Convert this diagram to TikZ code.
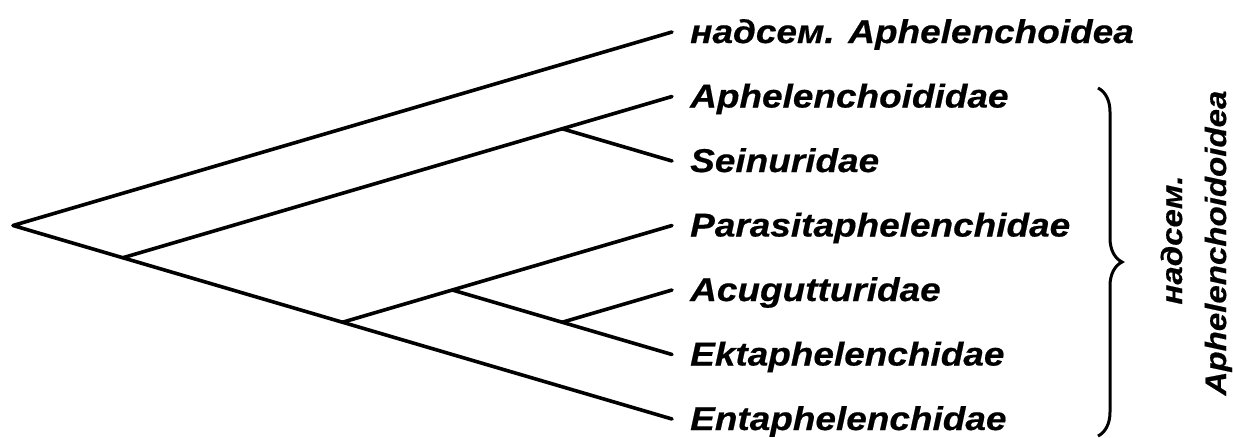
\documentclass[tikz,border=0pt]{standalone}
\usepackage{fontspec}
\newfontfamily\taxfont{Liberation Sans}[FakeStretch=1.12, BoldItalicFeatures={FakeBold=0.5}]
\usetikzlibrary{decorations.pathreplacing}
\tikzset{
  branch/.style={line width=3.6pt, line cap=round, line join=round},
  taxon/.style={anchor=base west, inner sep=0pt,
    font=\taxfont\bfseries\itshape\fontsize{33}{38}\selectfont},
  grouplabel/.style={rotate=90, anchor=base, inner sep=0pt,
    font=\taxfont\bfseries\itshape\fontsize{29.5}{44}\selectfont},
}
\begin{document}
\begin{tikzpicture}[x=1pt, y=-1pt]
  \useasboundingbox (0,0) rectangle (1233,437);

  % tips of the tree
  \coordinate (t1) at (672,32);
  \coordinate (t2) at (672,96.5);
  \coordinate (t3) at (672,161);
  \coordinate (t4) at (672,225.5);
  \coordinate (t5) at (672,290);
  \coordinate (t6) at (672,354.5);
  \coordinate (t7) at (672,419);

  % internal nodes
  \coordinate (root) at (13,225.5);
  \coordinate (nA) at (122.8,257.75);
  \coordinate (nB) at (562.2,128.75);
  \coordinate (nC) at (342.5,322.25);
  \coordinate (nD) at (452.3,290);
  \coordinate (nE) at (562.2,322.25);

  % branches
  \draw[branch] (t1) -- (root) -- (nA) -- (nC) -- (t7);
  \draw[branch] (nA) -- (nB) -- (t2);
  \draw[branch] (nB) -- (t3);
  \draw[branch] (nC) -- (nD) -- (t4);
  \draw[branch] (nD) -- (nE) -- (t6);
  \draw[branch] (nE) -- (t5);

  % taxon names
  \node[taxon] (l1) at ([xshift=18pt, yshift=-11pt]t1) {надсем. Aphelenchoidea};
  \node[taxon] (l2) at ([xshift=18pt, yshift=-11pt]t2) {Aphelenchoididae};
  \node[taxon] (l3) at ([xshift=18pt, yshift=-11pt]t3) {Seinuridae};
  \node[taxon] (l4) at ([xshift=18pt, yshift=-11pt]t4) {Parasitaphelenchidae};
  \node[taxon] (l5) at ([xshift=18pt, yshift=-11pt]t5) {Acugutturidae};
  \node[taxon] (l6) at ([xshift=18pt, yshift=-11pt]t6) {Ektaphelenchidae};
  \node[taxon] (l7) at ([xshift=18pt, yshift=-11pt]t7) {Entaphelenchidae};

  % superfamily brace and its two-line label
  \coordinate (bTop) at (1098,88);
  \coordinate (bBot) at (1098,436);
  \draw[line width=3pt, decorate, decoration={brace, amplitude=24pt}] (bTop) -- (bBot);
  \node[grouplabel] (sf1) at (1182,240) {надсем.};
  \node[grouplabel] (sf2) at (1226,243) {Aphelenchoidoidea};
\end{tikzpicture}
\end{document}
